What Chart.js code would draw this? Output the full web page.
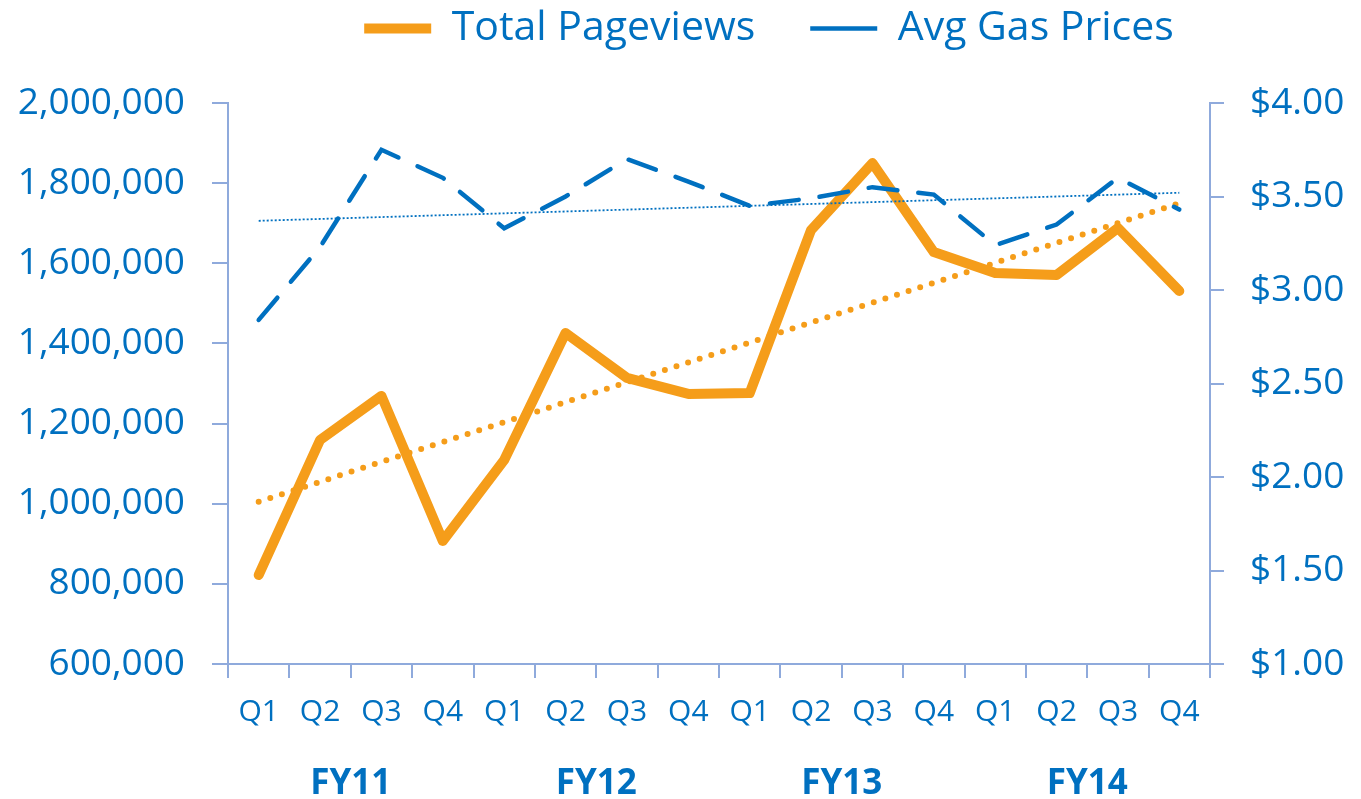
<!DOCTYPE html>
<html>
<head>
<meta charset="utf-8">
<script src="https://cdn.jsdelivr.net/npm/chart.js@4"></script>
<style>
    body { margin: 0; background: #fff; }
    #wrap { width: 1361px; height: 799px; }
</style>
</head>
<body>
<div id="wrap"><canvas id="chartPageviews"></canvas></div>
<script>
// Datos por trimestre
const quarters = ['Q1', 'Q2', 'Q3', 'Q4', 'Q1', 'Q2', 'Q3', 'Q4', 'Q1', 'Q2', 'Q3', 'Q4', 'Q1', 'Q2', 'Q3', 'Q4'];
const fiscalYears = ['FY11', 'FY12', 'FY13', 'FY14'];
const pageviews = [822000, 1159000, 1269000, 907000, 1109000, 1426000, 1314000, 1274000,
    1276000, 1683000, 1850000, 1628000, 1576000, 1571000, 1688000, 1531000];
const gasPrices = [2.84, 3.23, 3.75, 3.60, 3.33, 3.50, 3.70, 3.58,
    3.45, 3.49, 3.55, 3.51, 3.24, 3.35, 3.60, 3.43];
// Lineas de tendencia (extremos)
const pageviewsTrend = [1005000, null, null, null, null, null, null, null,
    null, null, null, null, null, null, null, 1750000];
const gasTrend = [3.37, null, null, null, null, null, null, null,
    null, null, null, null, null, null, null, 3.52];

const naranja = '#F59D1A';
const azul = '#0070C0';
const ejeColor = '#8FAADC';
const fuente = "'Open Sans', sans-serif";

// Leyenda: mas espacio debajo y desplazada a la derecha
const ajusteLeyenda = {
    id: 'ajusteLeyenda',
    beforeInit(chart) {
        const fitOriginal = chart.legend.fit;
        chart.legend.fit = function () {
            fitOriginal.bind(chart.legend)();
            this.height += 44;
        };
    },
    afterLayout(chart) {
        chart.legend.left += 100;
        chart.legend.right += 72;
    }
};

const ctx = document.getElementById('chartPageviews').getContext('2d');
new Chart(ctx, {
    type: 'line',
    data: {
        labels: quarters,
        datasets: [{
            label: 'Total Pageviews',
            data: pageviews,
            borderColor: naranja,
            backgroundColor: naranja,
            borderWidth: 10,
            borderCapStyle: 'round',
            borderJoinStyle: 'round',
            pointRadius: 0,
            pointStyle: 'line',
            tension: 0,
            yAxisID: 'y',
            order: 2
        }, {
            label: 'Avg Gas Prices',
            data: gasPrices,
            borderColor: azul,
            backgroundColor: azul,
            borderWidth: 4.5,
            borderDash: [29, 21],
            borderCapStyle: 'round',
            pointRadius: 0,
            pointStyle: 'line',
            tension: 0,
            yAxisID: 'y1',
            order: 1
        }, {
            label: 'trend1',
            data: pageviewsTrend,
            borderColor: naranja,
            borderWidth: 6,
            borderDash: [0, 12.2],
            borderCapStyle: 'round',
            pointRadius: 0,
            spanGaps: true,
            yAxisID: 'y',
            order: 3
        }, {
            label: 'trend2',
            data: gasTrend,
            borderColor: azul,
            borderWidth: 1.8,
            borderDash: [2, 2],
            pointRadius: 0,
            spanGaps: true,
            yAxisID: 'y1',
            order: 0
        }]
    },
    options: {
        responsive: true,
        maintainAspectRatio: false,
        animation: false,
        layout: { padding: { top: -47, left: 5, right: 0, bottom: 0 } },
        plugins: {
            legend: {
                position: 'top',
                labels: {
                    filter: (item) => !item.text.startsWith('trend'),
                    sort: (a, b) => a.datasetIndex - b.datasetIndex,
                    usePointStyle: true,
                    pointStyleWidth: 67,
                    boxHeight: 30,
                    color: azul,
                    font: { family: fuente, size: 41 },
                    padding: 55
                }
            },
            tooltip: { enabled: false }
        },
        scales: {
            x: {
                offset: true,
                afterFit: (scale) => { scale.height = 69; },
                grid: { drawOnChartArea: false, color: ejeColor, lineWidth: 2, tickLength: 14, offset: true },
                border: { color: ejeColor, width: 2 },
                ticks: { color: azul, font: { family: fuente, size: 30 }, padding: 16, maxRotation: 0, autoSkip: false }
            },
            fy: {
                type: 'category',
                labels: fiscalYears,
                position: 'bottom',
                offset: true,
                afterFit: (scale) => { scale.height = 66; },
                grid: { display: false, drawTicks: false },
                border: { display: false },
                ticks: { color: azul, font: { family: fuente, size: 35, weight: 'bold' }, padding: 30 }
            },
            y: {
                position: 'left',
                min: 600000,
                max: 2000000,
                afterFit: (scale) => { scale.width = 223; },
                grid: { drawOnChartArea: false, color: ejeColor, lineWidth: 2, tickLength: 16 },
                border: { color: ejeColor, width: 2 },
                ticks: {
                    stepSize: 200000,
                    color: azul,
                    font: { family: fuente, size: 37 },
                    padding: 27,
                    callback: (v) => v.toLocaleString('en-US')
                }
            },
            y1: {
                position: 'right',
                min: 1,
                max: 4,
                afterFit: (scale) => { scale.width = 151; },
                grid: { drawOnChartArea: false, color: ejeColor, lineWidth: 2, tickLength: 14 },
                border: { color: ejeColor, width: 2 },
                ticks: {
                    stepSize: 0.5,
                    color: azul,
                    font: { family: fuente, size: 37 },
                    padding: 26,
                    callback: (v) => '$' + v.toFixed(2)
                }
            }
        }
    },
    plugins: [ajusteLeyenda]
});
</script>
</body>
</html>
